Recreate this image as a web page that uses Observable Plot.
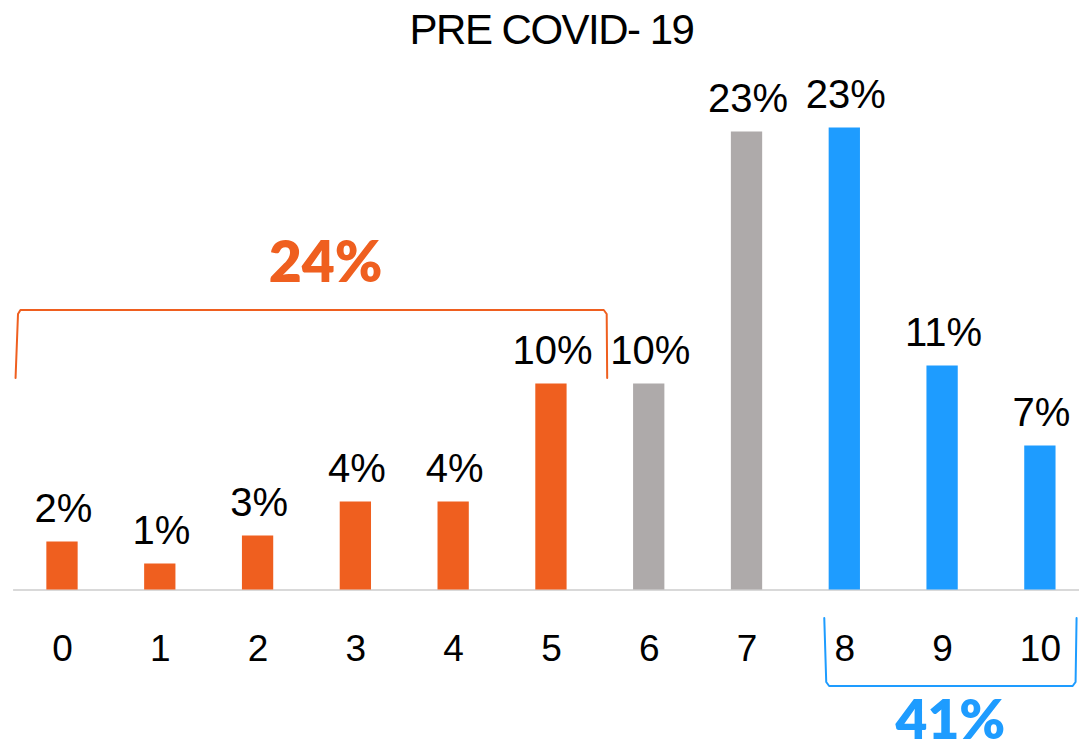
<!DOCTYPE html>
<html><head><meta charset="utf-8">
<script src="https://cdn.jsdelivr.net/npm/d3@7"></script>
<script src="https://cdn.jsdelivr.net/npm/@observablehq/plot@0.6"></script>
<style>
html,body{margin:0;padding:0;background:#fff;}
#title{height:60px;line-height:60px;text-align:center;padding-left:24px;font-family:"Liberation Sans",Arial,sans-serif;font-size:42px;letter-spacing:-1.5px;color:#000;white-space:pre;}
#chart svg{display:block;}
</style></head><body>
<div id="title">PRE COVID- 19</div>
<div id="chart"></div>
<script>
// ---- data ----
const scores = [0, 1, 2, 3, 4, 5, 6, 7, 8, 9, 10];
const shares = [2.4, 1.3, 2.7, 4.4, 4.4, 10.3, 10.3, 22.9, 23.1, 11.2, 7.2];
const scoreGroups = ["Detractor","Detractor","Detractor","Detractor","Detractor","Detractor","Passive","Passive","Promoter","Promoter","Promoter"];
const groupNames = ["Detractor", "Passive", "Promoter"];
const groupColors = ["#EF5F1F", "#AEAAAA", "#1E9CFF"];
const bracketGroups = ["Detractor", "Promoter"];
const bracketTotals = ["24%", "41%"];

const rows = scores.map((s, i) => ({score: s, share: shares[i], group: scoreGroups[i], label: Math.round(shares[i]) + "%"}));
const colorOf = g => groupColors[groupNames.indexOf(g)];

// bracket geometry (annotation layout)
const orangeB = {x1: -0.48, x2: 5.57, yt: 14.0, yb: 10.6};
const blueB = {x1: 7.79, x2: 10.37, yt: -1.4, yb: -4.8};
const orangePath = [
  [orangeB.x1, orangeB.yb], [orangeB.x1 + 0.025, orangeB.yt - 0.2], [orangeB.x1 + 0.05, orangeB.yt],
  [orangeB.x2 - 0.035, orangeB.yt], [orangeB.x2 - 0.005, orangeB.yt - 0.2], [orangeB.x2, orangeB.yb]
].map(([x, y]) => ({x, y}));
const bluePath = [
  [blueB.x1, blueB.yt], [blueB.x1 + 0.02, blueB.yb + 0.2], [blueB.x1 + 0.05, blueB.yb],
  [blueB.x2 - 0.04, blueB.yb], [blueB.x2 - 0.01, blueB.yb + 0.2], [blueB.x2, blueB.yt]
].map(([x, y]) => ({x, y}));
const totals = [
  {x: 2.69, y: 15.4, text: bracketTotals[0], group: bracketGroups[0], size: 57},
  {x: 9.08, y: -7.45, text: bracketTotals[1], group: bracketGroups[1], size: 55}
];

const font = '"Liberation Sans", Arial, sans-serif';

const chart = Plot.plot({
  width: 1079,
  height: 691,
  marginLeft: 0,
  marginRight: 0,
  marginTop: 29.5,
  marginBottom: 161.5,
  style: {background: "#fff", color: "#000", fontFamily: font, overflow: "visible"},
  x: {type: "linear", domain: [-0.634, 10.4], axis: null},
  y: {domain: [0, 25], axis: null},
  color: {domain: groupNames, range: groupColors},
  marks: [
    Plot.ruleY([0], {x1: -0.5, x2: 10.5, stroke: "#D9D9D9", strokeWidth: 2}),
    Plot.rectY(rows, {x1: d => d.score - 0.16, x2: d => d.score + 0.16, y: "share", fill: "group"}),
    Plot.text(rows, {x: "score", y: "share", text: "label", lineAnchor: "bottom", dy: -20, dx: 1, fontSize: 40, fill: "#000", letterSpacing: -1.5}),
    Plot.text(rows, {x: "score", y: () => 0, text: d => String(d.score), lineAnchor: "bottom", dy: 70.5, fontSize: 37, fill: "#000", letterSpacing: -3}),
    Plot.line(orangePath, {x: "x", y: "y", stroke: colorOf("Detractor"), strokeWidth: 2}),
    Plot.line(bluePath, {x: "x", y: "y", stroke: colorOf("Promoter"), strokeWidth: 2}),
    Plot.text(totals, {x: "x", y: "y", text: "text", fill: d => colorOf(d.group), lineAnchor: "bottom", fontFamily: "Lato", fontWeight: 800, fontSize: d => d.size, letterSpacing: -1.5})
  ]
});
document.getElementById("chart").appendChild(chart);
</script>
</body></html>
